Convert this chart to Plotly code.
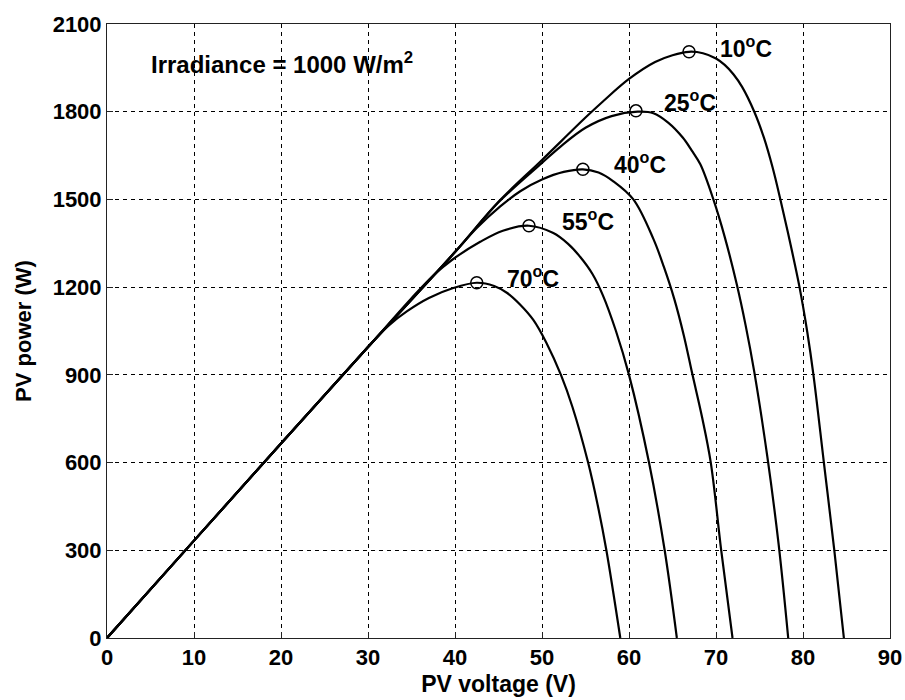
import plotly.graph_objects as go

# ---- data ----
temps = ["10", "25", "40", "55", "70"]

v_10 = [0, 10, 20, 30, 40, 45, 50, 55, 57, 60, 63, 65, 66.9, 68.5, 70, 71, 72, 73, 74.4, 75.5, 76.5, 77.4, 78.5, 79.6, 80.5, 81.2, 82.4, 83.6, 84.7]
p_10 = [0, 333, 665, 995, 1320, 1492, 1635, 1780, 1835, 1912, 1970, 1993, 2005, 2000, 1982, 1960, 1928, 1885, 1800, 1712, 1610, 1500, 1355, 1200, 1045, 900, 600, 300, 0]

v_25 = [0, 10, 20, 30, 40, 45, 50, 52.1, 55, 58, 61, 62.8, 64.5, 66.2, 67.2, 68.2, 69.7, 71, 72.4, 73.4, 74.4, 75.9, 77.2, 78.3]
p_25 = [0, 333, 665, 995, 1320, 1490, 1625, 1680, 1745, 1785, 1800, 1795, 1763, 1711, 1668, 1620, 1500, 1372, 1208, 1070, 910, 620, 320, 0]

v_40 = [0, 10, 20, 30, 40, 42.5, 45.2, 47.5, 50, 52.5, 54.7, 56.5, 58.2, 60.5, 62.8, 64, 65.2, 66.3, 67.3, 68.4, 69.4, 70.6, 71.9]
p_40 = [0, 333, 665, 995, 1320, 1402, 1476, 1528, 1568, 1594, 1603, 1592, 1562, 1500, 1365, 1270, 1160, 1035, 900, 755, 600, 300, 0]

v_55 = [0, 10, 20, 30, 35, 37.5, 39.6, 42.9, 45.5, 48.5, 51.3, 53, 54.4, 55.8, 57, 58.5, 60, 62.3, 64.1, 65.5]
p_55 = [0, 333, 665, 995, 1162, 1240, 1292, 1355, 1393, 1410, 1385, 1348, 1303, 1245, 1172, 1050, 900, 600, 300, 0]

v_70 = [0, 10, 20, 30, 31, 32.5, 34.5, 37, 39.8, 42.5, 44.5, 46, 47.5, 49, 50.5, 52.2, 53.5, 55.3, 56.4, 57.4, 59.0]
p_70 = [0, 333, 665, 995, 1028, 1072, 1118, 1163, 1197, 1215, 1204, 1180, 1140, 1088, 1010, 898, 790, 600, 455, 300, 0]

mpp_v = [66.9, 60.8, 54.7, 48.5, 42.5]
mpp_p = [2005, 1803, 1603, 1410, 1215]

x_ticks = [0, 10, 20, 30, 40, 50, 60, 70, 80, 90]
y_ticks = [0, 300, 600, 900, 1200, 1500, 1800, 2100]

curves = [(v_10, p_10), (v_25, p_25), (v_40, p_40), (v_55, p_55), (v_70, p_70)]

FONT = "Liberation Sans, Arial, sans-serif"

fig = go.Figure()
for (vv, pp), t in zip(curves, temps):
    fig.add_trace(go.Scatter(x=vv, y=pp, mode="lines", name=t + " C",
                             line=dict(color="black", width=2.2, shape="spline", smoothing=1.0),
                             showlegend=False, hoverinfo="skip"))

fig.add_trace(go.Scatter(x=mpp_v, y=mpp_p, mode="markers", showlegend=False,
                         marker=dict(symbol="circle-open", size=12, color="black",
                                     line=dict(width=1.5, color="black"))))

label_pos = [(70.2, 2020), (63.8, 1835), (58.0, 1626), (52.1, 1428), (45.7, 1233)]
for t, (lx, ly) in zip(temps, label_pos):
    fig.add_annotation(x=lx, y=ly, text=t + "<sup>o</sup>C", showarrow=False,
                       xanchor="left", yanchor="middle",
                       font=dict(family=FONT, size=23, color="black", weight="bold"))

fig.add_annotation(x=4.8, y=1965, text="Irradiance = 1000 W/m<sup>2</sup>", showarrow=False,
                   xanchor="left", yanchor="middle",
                   font=dict(family=FONT, size=24, color="black", weight="bold"))

axis_common = dict(showline=True, linecolor="#222", linewidth=1, mirror=True,
                   showgrid=True, gridcolor="black", gridwidth=1, griddash="4px,4px",
                   zeroline=False, ticks="inside", ticklen=6, tickcolor="#222",
                   tickfont=dict(family=FONT, size=22, color="black", weight="bold"))

fig.update_xaxes(range=[0, 90], tickvals=x_ticks, **axis_common,
                 title=dict(text="PV voltage (V)", standoff=6,
                            font=dict(family=FONT, size=23, color="black", weight="bold")))
fig.update_yaxes(range=[0, 2100], tickvals=y_ticks, **axis_common,
                 title=dict(text="PV power (W)", standoff=14,
                            font=dict(family=FONT, size=22, color="black", weight="bold")))

fig.update_layout(width=905, height=700, margin=dict(l=107, r=15, t=24, b=62, autoexpand=False),
                  paper_bgcolor="white", plot_bgcolor="white")

fig.write_html("out.html")
